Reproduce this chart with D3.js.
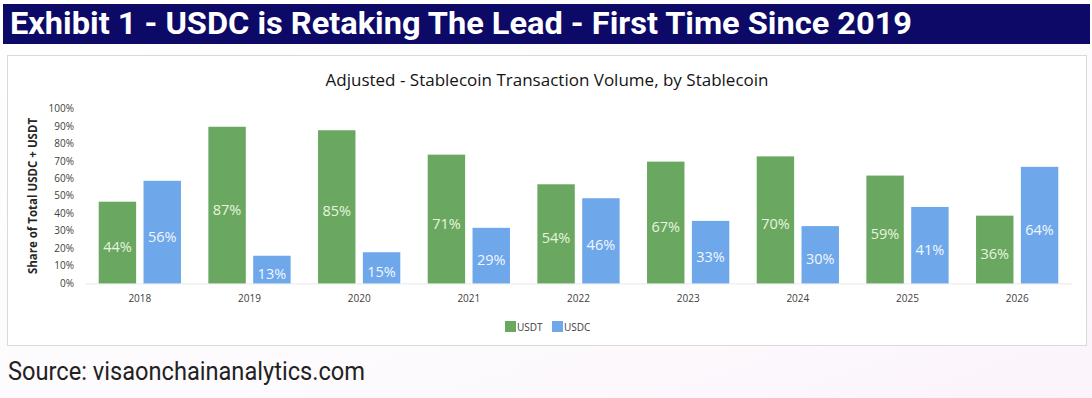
<!DOCTYPE html>
<html>
<head>
<meta charset="utf-8">
<script src="https://cdn.jsdelivr.net/npm/d3@7"></script>
<style>
  body { margin: 0; background: #fff; }
  svg { display: block; }
</style>
</head>
<body>
<script>
// datos del gráfico
const years = ['2018', '2019', '2020', '2021', '2022', '2023', '2024', '2025', '2026'];
const usdt = [44, 87, 85, 71, 54, 67, 70, 59, 36];
const usdc = [56, 13, 15, 29, 46, 33, 30, 41, 64];
const yTicks = [0, 10, 20, 30, 40, 50, 60, 70, 80, 90, 100];
const series = ['USDT', 'USDC'];

const WIDTH = 1092;
const HEIGHT = 398;

const colores = { USDT: '#6aa862', USDC: '#6ea8ea' };
const colorLabel = { USDT: '#e6f6dc', USDC: '#f2f7ff' };

const svg = d3.select('body')
  .append('svg')
  .attr('width', WIDTH)
  .attr('height', HEIGHT);

// fondo con un tono rosado suave abajo
const defs = svg.append('defs');
const grad = defs.append('linearGradient')
  .attr('id', 'fondo')
  .attr('x1', 0).attr('y1', 0).attr('x2', 1).attr('y2', 1);
grad.append('stop').attr('offset', '0%').attr('stop-color', '#ffffff');
grad.append('stop').attr('offset', '60%').attr('stop-color', '#fdfbfd');
grad.append('stop').attr('offset', '100%').attr('stop-color', '#fbf4fb');

svg.append('rect')
  .attr('width', WIDTH).attr('height', HEIGHT)
  .attr('fill', 'url(#fondo)');

// banda del título
svg.append('rect')
  .attr('x', 3).attr('y', 4)
  .attr('width', 1087).attr('height', 40)
  .attr('fill', '#0c0a66');

svg.append('text')
  .attr('x', 10).attr('y', 34)
  .attr('font-family', 'Roboto, sans-serif')
  .attr('font-weight', 'bold')
  .attr('font-size', 32)
  .attr('fill', '#fff')
  .attr('textLength', 902)
  .attr('lengthAdjust', 'spacingAndGlyphs')
  .text('Exhibit 1 - USDC is Retaking The Lead - First Time Since 2019');

// panel del gráfico
svg.append('rect')
  .attr('x', 7.5).attr('y', 55.5)
  .attr('width', 1079).attr('height', 290)
  .attr('fill', '#fff')
  .attr('stroke', '#d9d9d9');

svg.append('text')
  .attr('x', 547).attr('y', 86)
  .attr('text-anchor', 'middle')
  .attr('font-family', '"Open Sans", sans-serif')
  .attr('font-size', 16)
  .attr('fill', '#141414')
  .attr('textLength', 443)
  .attr('lengthAdjust', 'spacingAndGlyphs')
  .text('Adjusted - Stablecoin Transaction Volume, by Stablecoin');

// escalas
const escalaX = d3.scaleBand()
  .domain(years)
  .range([85, 1072]);

const escalaSerie = d3.scaleBand()
  .domain(series)
  .range([13.7, escalaX.bandwidth() - 13.7])
  .paddingInner(0.165);

const escalaY = d3.scaleLinear()
  .domain([0, 100])
  .range([278.4, 104.1]);

const base = escalaY(0) + 5;

// eje Y (etiquetas)
const ejeY = svg.append('g')
  .attr('transform', 'translate(74, 4.5)')
  .call(d3.axisLeft(escalaY).tickValues(yTicks).tickFormat(d => d + '%').tickSize(0).tickPadding(0));
ejeY.select('.domain').remove();
ejeY.selectAll('text')
  .attr('font-family', '"Open Sans", sans-serif')
  .attr('font-size', 10)
  .attr('fill', '#404040');

svg.append('text')
  .attr('transform', 'translate(37, 196) rotate(-90)')
  .attr('text-anchor', 'middle')
  .attr('font-family', '"Open Sans", sans-serif')
  .attr('font-weight', 'bold')
  .attr('font-size', 11.5)
  .attr('fill', '#262626')
  .text('Share of Total USDC + USDT');

// eje X
const ejeX = svg.append('g')
  .attr('transform', `translate(0, ${base})`)
  .call(d3.axisBottom(escalaX).tickSize(0).tickPadding(12));
ejeX.select('.domain').attr('stroke', '#e8e8e8');
ejeX.selectAll('text')
  .attr('font-family', '"Open Sans", sans-serif')
  .attr('font-size', 10)
  .attr('fill', '#404040');

// barras
const datos = years.map((y, i) => ({ year: y, USDT: usdt[i], USDC: usdc[i] }));

const grupos = svg.selectAll('g.grupo')
  .data(datos)
  .enter()
  .append('g')
  .attr('class', 'grupo')
  .attr('transform', d => `translate(${escalaX(d.year)}, 0)`);

const celdas = grupos.selectAll('g.barra')
  .data(d => series.map(s => ({ serie: s, valor: d[s] })))
  .enter()
  .append('g')
  .attr('class', 'barra');

celdas.append('rect')
  .attr('x', d => escalaSerie(d.serie))
  .attr('y', d => escalaY(d.valor))
  .attr('width', escalaSerie.bandwidth())
  .attr('height', d => base - escalaY(d.valor))
  .attr('fill', d => colores[d.serie]);

celdas.append('text')
  .attr('x', d => escalaSerie(d.serie) + escalaSerie.bandwidth() / 2)
  .attr('y', d => (escalaY(d.valor) + base) / 2 + 4)
  .attr('text-anchor', 'middle')
  .attr('dominant-baseline', 'central')
  .attr('font-family', '"Open Sans", sans-serif')
  .attr('font-size', 14.5)
  .attr('fill', d => colorLabel[d.serie])
  .text(d => d.valor + '%');

// leyenda
const leyenda = svg.append('g')
  .attr('transform', 'translate(505, 321)');

const items = leyenda.selectAll('g')
  .data(series)
  .enter()
  .append('g')
  .attr('transform', (d, i) => `translate(${i * 47}, 0)`);

items.append('rect')
  .attr('width', 11).attr('height', 11)
  .attr('fill', d => colores[d]);

items.append('text')
  .attr('x', 12).attr('y', 6)
  .attr('dominant-baseline', 'central')
  .attr('font-family', '"Open Sans", sans-serif')
  .attr('font-size', 10)
  .attr('fill', '#404040')
  .text(d => d);

// fuente
svg.append('text')
  .attr('x', 8).attr('y', 380)
  .attr('font-family', 'Roboto, sans-serif')
  .attr('font-size', 25)
  .attr('fill', '#222')
  .attr('textLength', 357)
  .attr('lengthAdjust', 'spacingAndGlyphs')
  .text('Source: visaonchainanalytics.com');
</script>
</body>
</html>
